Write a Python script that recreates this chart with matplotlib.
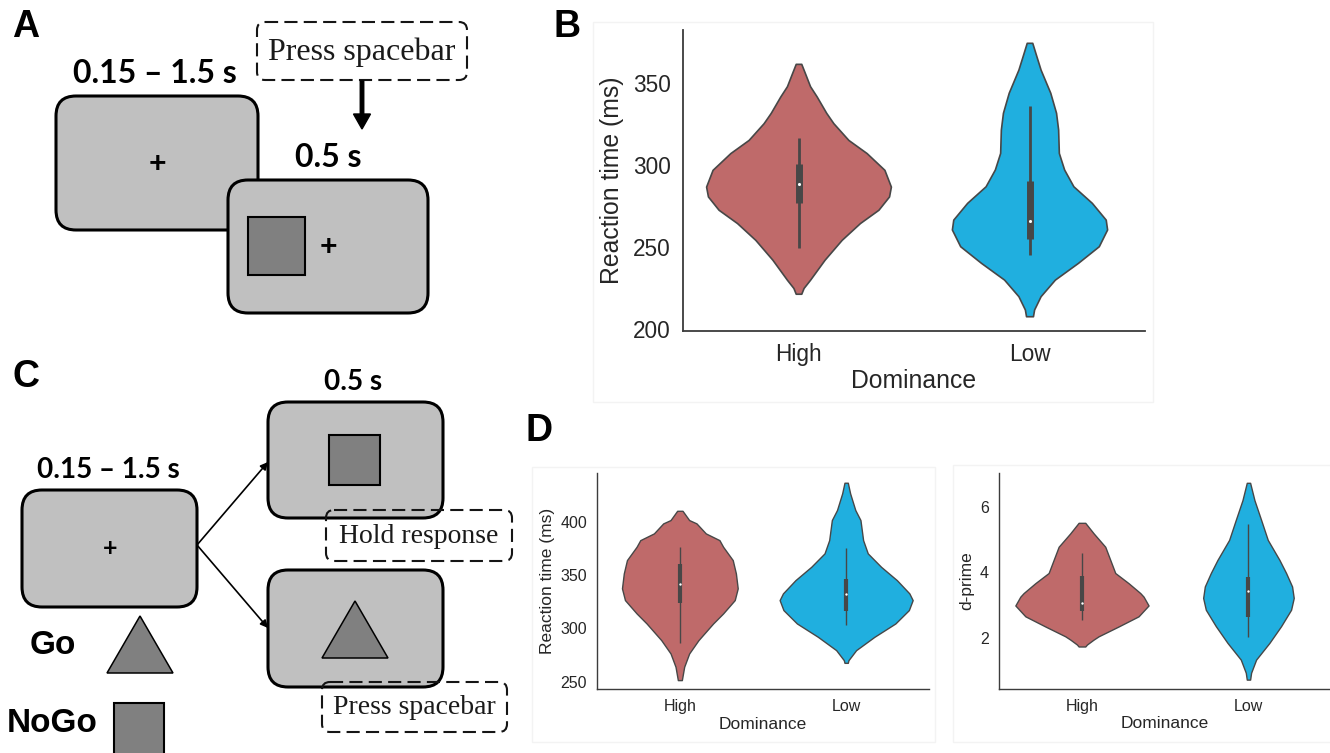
"""Go/NoGo task schematic with reaction-time and d-prime violins by dominance."""
import matplotlib
matplotlib.use("Agg")
import matplotlib.pyplot as plt
import numpy as np
from matplotlib.patches import FancyBboxPatch, Rectangle, Polygon, FancyArrow, FancyArrowPatch

GROUPS = ["High", "Low"]

# violin outlines: value -> half width (category units)
rt1_high_val = [361.4, 355.0, 347.8, 341.5, 331.6, 325.3, 315.1, 307.1, 296.9,
                286.7, 280.7, 272.6, 264.5, 254.3, 242.2, 230.0, 225.0, 221.5]
rt1_high_hw = [0.012, 0.03, 0.05, 0.079, 0.12, 0.151, 0.216, 0.295, 0.372,
               0.40, 0.392, 0.346, 0.266, 0.187, 0.113, 0.05, 0.022, 0.012]
rt1_low_val = [374.2, 366.0, 357.9, 343.8, 331.6, 321.4, 307.2, 297.1, 286.9,
               276.8, 266.6, 260.6, 250.4, 240.3, 230.1, 220.0, 211.9, 207.8]
rt1_low_hw = [0.012, 0.03, 0.048, 0.09, 0.115, 0.124, 0.127, 0.15, 0.19,
              0.27, 0.33, 0.336, 0.30, 0.21, 0.11, 0.048, 0.02, 0.015]

rt2_high_val = [410.3, 401.6, 398.5, 389.1, 382.8, 376.6, 364.1, 351.6, 337.6,
                326.6, 314.1, 304.7, 289.1, 276.6, 264.1, 251.6]
rt2_high_hw = [0.016, 0.056, 0.10, 0.156, 0.238, 0.26, 0.318, 0.337, 0.348,
               0.33, 0.26, 0.20, 0.112, 0.056, 0.026, 0.012]
rt2_low_val = [436.6, 426.6, 411.0, 401.6, 382.8, 370.4, 357.8, 345.3, 332.9,
               326.6, 317.2, 304.7, 292.2, 279.7, 270.3, 267.8]
rt2_low_hw = [0.01, 0.024, 0.055, 0.086, 0.102, 0.13, 0.21, 0.305, 0.38,
              0.40, 0.377, 0.296, 0.17, 0.06, 0.014, 0.01]

dp_high_val = [5.51, 5.19, 4.78, 4.38, 3.98, 3.67, 3.37, 3.26, 2.99, 2.66,
               2.35, 2.05, 1.95, 1.80, 1.74]
dp_high_hw = [0.02, 0.07, 0.14, 0.17, 0.20, 0.28, 0.35, 0.37, 0.40, 0.34,
              0.22, 0.10, 0.07, 0.03, 0.02]
dp_low_val = [6.73, 6.20, 5.60, 4.99, 4.38, 3.98, 3.57, 3.22, 2.86, 2.36,
              1.85, 1.34, 0.94, 0.73]
dp_low_hw = [0.01, 0.036, 0.076, 0.116, 0.186, 0.226, 0.262, 0.272, 0.256,
             0.196, 0.126, 0.046, 0.016, 0.01]

# inner boxes: whisker low, q1, median, q3, whisker high
rt1_box = {"High": [249.6, 277.0, 288.2, 300.5, 316.2],
           "Low": [245.3, 255.1, 265.6, 290.0, 336.0]}
rt2_box = {"High": [286.6, 323.5, 341.3, 360.3, 376.0],
           "Low": [303.2, 316.6, 332.0, 346.3, 375.6]}
dp_box = {"High": [2.55, 2.83, 3.06, 3.90, 4.60],
          "Low": [2.03, 2.64, 3.42, 3.85, 5.47]}

COLORS = {"High": "#bf6a6a", "Low": "#20afdf"}
EDGE = "#474747"
TEXT = "#262626"
SCREEN = "#c0c0c0"
STIM = "#808080"

W, H = 1330, 753
plt.rcParams["font.family"] = ["Liberation Sans", "DejaVu Sans"]

fig = plt.figure(figsize=(W / 100, H / 100), dpi=100)

# pixel-space canvas for the task schematics and panel letters
cv = fig.add_axes([0, 0, 1, 1], zorder=0)
cv.set_xlim(0, W)
cv.set_ylim(H, 0)
cv.axis("off")


def screen(x, y, w, h, lw=2.2):
    cv.add_patch(FancyBboxPatch((x, y), w, h, boxstyle="round,pad=0,rounding_size=20",
                                fc=SCREEN, ec="black", lw=lw, zorder=2))


def dashed(x, y, w, h, label, fs):
    cv.add_patch(FancyBboxPatch((x, y), w, h, boxstyle="round,pad=0,rounding_size=8",
                                fc="none", ec="#151515", lw=1.5,
                                linestyle=(0, (6.3, 3.0)), zorder=4))
    cv.text(x + w / 2, y + h / 2 + 1, label, ha="center", va="center", fontsize=fs,
            family=["Liberation Serif"], color="#1a1a1a", zorder=5)


def timing(x, y, label, fs):
    cv.text(x, y, label, ha="center", va="center", fontsize=fs, fontweight="bold",
            family=["Lato", "DejaVu Sans"], color="black", zorder=5)


def cross(x, y, fs):
    cv.text(x, y, "+", ha="center", va="center", fontsize=fs, fontweight="bold",
            family=["Lato", "DejaVu Sans"], color="black", zorder=5)


def letter(x, y, s):
    cv.text(x, y, s, ha="left", va="center", fontsize=27, fontweight="bold",
            color="black", zorder=5)


# panel A: fixation then NoGo square
letter(12, 27, "A")
timing(155, 73, "0.15 \u2013 1.5 s", 23)
screen(56, 96, 202, 134)
cross(157, 164, 22)
timing(328, 157, "0.5 s", 23)
screen(228, 180, 200, 133)
cv.add_patch(Rectangle((248, 217), 57, 58, fc=STIM, ec="black", lw=1.5, zorder=3))
cross(328, 247, 22)
dashed(257, 22, 210, 58, "Press spacebar", 23)
cv.add_patch(FancyArrow(362, 81, 0, 48, width=3.5, head_width=17, head_length=15,
                        length_includes_head=True, color="black", zorder=4))

# panel C: fixation branches into NoGo / Go screens
letter(12, 377, "C")
timing(353, 382, "0.5 s", 20)
timing(108, 470, "0.15 \u2013 1.5 s", 20)
screen(22, 490, 175, 117)
cross(110, 549, 18)
screen(268, 402, 175, 116)
cv.add_patch(Rectangle((329, 435), 51, 50, fc=STIM, ec="black", lw=1.5, zorder=3))
screen(268, 570, 175, 117)
cv.add_patch(Polygon([(322, 658), (388, 658), (355, 601)], closed=True,
                     fc=STIM, ec="black", lw=1.1, zorder=3))
for yb in (462, 628):
    cv.add_patch(FancyArrowPatch((197, 545), (268, yb), arrowstyle="-|>",
                                 mutation_scale=11, lw=1.2, color="black",
                                 shrinkA=0, shrinkB=0, zorder=3))
dashed(326, 510, 186, 51, "Hold response", 20)
dashed(322, 682, 185, 50, "Press spacebar", 20)

cv.text(30, 646, "Go", ha="left", va="center", fontsize=24, fontweight="bold", zorder=5)
cv.add_patch(Polygon([(107, 673), (173, 673), (140, 616)], closed=True,
                     fc=STIM, ec="black", lw=1.1, zorder=3))
cv.text(7, 724, "NoGo", ha="left", va="center", fontsize=24, fontweight="bold", zorder=5)
cv.add_patch(Rectangle((114, 703), 50, 52, fc=STIM, ec="black", lw=1.5, zorder=3))

# faint frames around the plotted panels
for x0, y0, x1, y1 in [(593, 22, 1153, 402), (532, 467, 935, 742), (953, 465, 1334, 742)]:
    cv.add_patch(Rectangle((x0, y0), x1 - x0, y1 - y0, fc="none", ec="#f3f3f3",
                           lw=1.0, zorder=1))

letter(553, 27, "B")
letter(526, 431, "D")


def violin(ax, pos, vals, hw, box, color, lw_edge, lw_whisk, lw_box, dot):
    vals = np.asarray(vals)
    hw = np.asarray(hw)
    ax.fill_betweenx(vals, pos - hw, pos + hw, facecolor=color, edgecolor=EDGE,
                     linewidth=lw_edge, joinstyle="round", zorder=2)
    lo, q1, med, q3, hi = box
    ax.plot([pos, pos], [lo, hi], color=EDGE, lw=lw_whisk, solid_capstyle="butt", zorder=3)
    ax.plot([pos, pos], [q1, q3], color=EDGE, lw=lw_box, solid_capstyle="butt", zorder=3)
    ax.scatter([pos], [med], s=dot, color="white", linewidths=0, zorder=4)


def style(ax, ylim, yticks, ylabel, tick_fs, label_fs, pad, spine_lw, labelpad):
    ax.set_xlim(-0.5, 1.5)
    ax.set_ylim(*ylim)
    ax.set_xticks([0, 1])
    ax.set_xticklabels(GROUPS)
    ax.set_yticks(yticks)
    for s in ("top", "right"):
        ax.spines[s].set_visible(False)
    for s in ("left", "bottom"):
        ax.spines[s].set_color("#3c3c3c")
        ax.spines[s].set_linewidth(spine_lw)
    ax.tick_params(length=0, labelsize=tick_fs, pad=pad, colors=TEXT)
    ax.set_xlabel("Dominance", fontsize=label_fs, color=TEXT, labelpad=2)
    ax.set_ylabel(ylabel, fontsize=label_fs, color=TEXT, labelpad=labelpad)
    ax.patch.set_alpha(0)


def fig_rect(x0, y0, x1, y1):
    return [x0 / W, 1 - y1 / H, (x1 - x0) / W, (y1 - y0) / H]


# panel B: reaction time, first task
axb = fig.add_axes(fig_rect(683, 30, 1145, 330.7), zorder=2)
violin(axb, 0, rt1_high_val, rt1_high_hw, rt1_box["High"], COLORS["High"], 1.2, 2.0, 5.0, 5)
violin(axb, 1, rt1_low_val, rt1_low_hw, rt1_box["Low"], COLORS["Low"], 1.2, 2.0, 5.0, 5)
style(axb, (199, 382), [200, 250, 300, 350], "Reaction time (ms)", 16.3, 17.8, 9, 1.3, 6)

# panel D: reaction time and d-prime, Go/NoGo task
axd1 = fig.add_axes(fig_rect(596.7, 472.7, 929.3, 689.3), zorder=2)
violin(axd1, 0, rt2_high_val, rt2_high_hw, rt2_box["High"], COLORS["High"], 1.0, 1.0, 3.0, 3)
violin(axd1, 1, rt2_low_val, rt2_low_hw, rt2_box["Low"], COLORS["Low"], 1.0, 1.0, 3.0, 3)
style(axd1, (243, 446), [250, 300, 350, 400], "Reaction time (ms)", 11.5, 12.5, 7, 1.0, 4)

axd2 = fig.add_axes(fig_rect(998.7, 473.3, 1331.7, 688.8), zorder=2)
violin(axd2, 0, dp_high_val, dp_high_hw, dp_box["High"], COLORS["High"], 1.0, 1.0, 3.0, 3)
violin(axd2, 1, dp_low_val, dp_low_hw, dp_box["Low"], COLORS["Low"], 1.0, 1.0, 3.0, 3)
style(axd2, (0.45, 7.02), [2, 4, 6], "d-prime", 11.5, 12.5, 7, 1.0, 4)

fig.savefig("out.png", dpi=100, facecolor="white")
